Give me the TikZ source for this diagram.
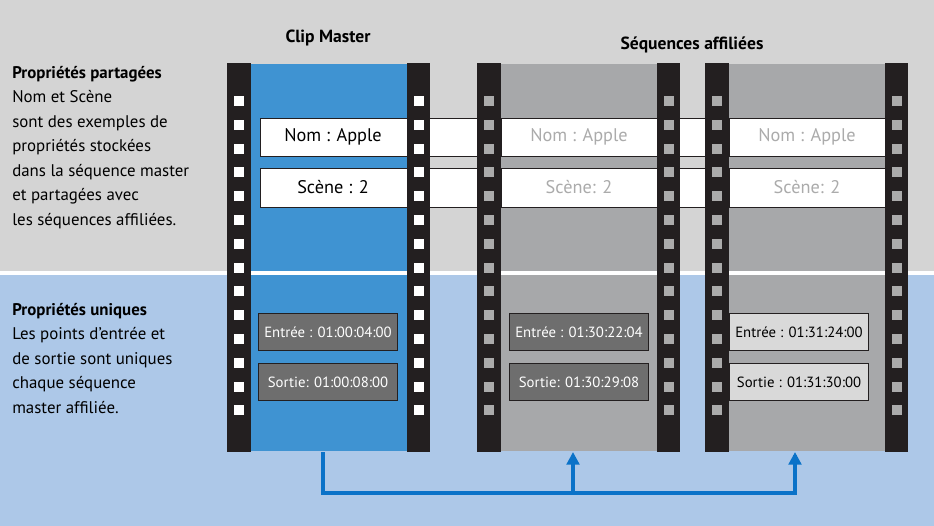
\documentclass[tikz,border=0pt]{standalone}
\usepackage{fontspec}
\setmainfont{PT Sans}
\usetikzlibrary{arrows.meta, positioning}
\definecolor{topgray}{HTML}{D4D4D4}
\definecolor{botblue}{HTML}{ADC8E8}
\definecolor{clipblue}{HTML}{3F93D2}
\definecolor{filmgray}{HTML}{A7A8AA}
\definecolor{holegray}{HTML}{ABABAB}
\definecolor{filmblack}{HTML}{231F20}
\definecolor{linkblue}{HTML}{0A72C8}
\definecolor{boxdark}{HTML}{6E6E6E}
\definecolor{boxlight}{HTML}{D9D9D9}
\tikzset{
  bar/.style={draw=filmblack, fill=white, line width=0.7pt},
  tcbox/.style={draw=filmblack, line width=0.7pt, minimum width=3.45cm, minimum height=0.92cm, inner sep=0pt, font=\fontsize{10.5}{12}\selectfont},
  title/.style={font=\fontsize{12.5}{14}\selectfont\bfseries},
  proptext/.style={font=\fontsize{13}{15}\selectfont},
  side/.style={anchor=north west, align=left, inner sep=0pt, font=\fontsize{12}{17.4}\selectfont},
  link/.style={draw=linkblue, line width=2.6pt}
}
\begin{document}
\begin{tikzpicture}[x=0.025cm, y=-0.025cm]
	\useasboundingbox (0,0) rectangle (934,526);
	% background
	\fill[topgray] (0,0) rectangle (934,273);
	\fill[botblue] (0,273) rectangle (934,526);
	\fill[white] (0,271) rectangle (934,275);
	
	% shared property bars
	\draw[bar] (260,118) rectangle (906,156);
	\draw[bar] (260,168) rectangle (906,207);
	
	% film strips
	\foreach \x/\c/\h in {227/clipblue/white, 477/filmgray/holegray, 705/filmgray/holegray} {
		\fill[filmblack] (\x,63) rectangle ++(24,389);
		\fill[filmblack] (\x+180,63) rectangle ++(23,389);
		\foreach \k in {0,...,13} {
			\fill[\h] (\x+7,96+\k*23.8) rectangle ++(10,10);
			\fill[\h] (\x+187,96+\k*23.8) rectangle ++(10,10);
		}
	}
	\fill[clipblue] (251,64) rectangle (407,451);
	\fill[filmgray] (501,64) rectangle (657,451);
	\fill[filmgray] (729,64) rectangle (885,451);
	\foreach \x in {251,501,729}
		\fill[white] (\x,271) rectangle ++(156,4);
	
	% bars over the strips
	\draw[bar] (260,118) rectangle (407,156);
	\draw[bar] (260,168) rectangle (407,207);
	\foreach \x in {501,729} {
		\draw[bar] (\x,118) rectangle ++(156,38);
		\draw[bar] (\x,168) rectangle ++(156,39);
	}
	
	% texts
	\node[title] (clip) at (328,38) {Clip Master};
	\node[title] (seq) at (692,45) {Séquences affiliées};
	\node[proptext] (nom1) at (333,137) {Nom : Apple};
	\node[proptext, text=holegray] (nom2) at (579,137) {Nom : Apple};
	\node[proptext, text=holegray] (nom3) at (807,137) {Nom : Apple};
	\node[proptext] (sc1) at (333,187) {Scène : 2};
	\node[proptext, text=holegray] (sc2) at (579,187) {Scène: 2};
	\node[proptext, text=holegray] (sc3) at (807,187) {Scène: 2};
	
	% timecode boxes
	\node[tcbox, fill=boxdark, text=white] (in1) at (328,332) {Entrée : 01:00:04:00};
	\node[tcbox, fill=boxdark, text=white] (out1) at (328,382) {Sortie: 01:00:08:00};
	\node[tcbox, fill=boxdark, text=white] (in2) at (579,332) {Entrée : 01:30:22:04};
	\node[tcbox, fill=boxdark, text=white] (out2) at (579,382) {Sortie: 01:30:29:08};
	\node[tcbox, fill=boxlight] (in3) at (799,332) {Entrée : 01:31:24:00};
	\node[tcbox, fill=boxlight] (out3) at (799,382) {Sortie : 01:31:30:00};
	
	% side notes
	\node[side] (shared) at (12,66) {\textbf{Propriétés partagées}\\Nom et Scène\\sont des exemples de\\propriétés stockées\\dans la séquence master\\et partagées avec\\les séquences affiliées.};
	\node[side] (unique) at (12,303) {\textbf{Propriétés uniques}\\Les points d'entrée et\\de sortie sont uniques\\chaque séquence\\master affiliée.};
	
	% links
	\coordinate (src) at (323,452);
	\coordinate (dst2) at (573,452);
	\coordinate (dst3) at (795,452);
	\draw[link] (src) |- (795,493) -- ([yshift=-2pt]dst3);
	\draw[link, -{Triangle[length=9pt,width=9pt]}] (573,493) -- (dst2);
	\draw[link, -{Triangle[length=9pt,width=9pt]}] (795,493) -- (dst3);
\end{tikzpicture}
\end{document}
